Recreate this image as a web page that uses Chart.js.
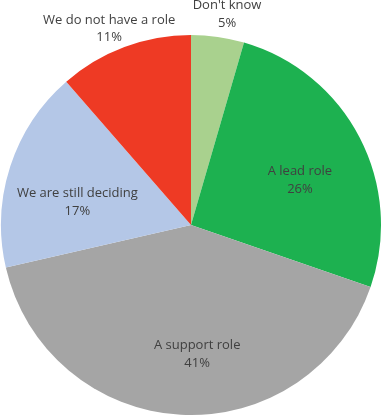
<!DOCTYPE html>
<html>
<head>
<meta charset="utf-8">
<script src="https://cdn.jsdelivr.net/npm/chart.js@4"></script>
<style>
  body { margin: 0; background: #fff; }
  #wrap { width: 383px; height: 415px; }
</style>
</head>
<body>
<div id="wrap"><canvas id="roleChart" width="383" height="415"></canvas></div>
<script>
// Role in the organisation - pie chart

const categories = ["Don't know", "A lead role", "A support role", "We are still deciding", "We do not have a role"];
const shares = [4.5, 25.8, 41.1, 17.2, 11.4];
const sliceColors = ["#a9d18e", "#1db150", "#a5a5a5", "#b4c7e7", "#ee3a24"];

// label placement: [angle nudge in degrees, distance as fraction of radius]
const labelSpots = [[1.6, 1.126], [5, 0.62], [-5.8, 0.68], [-6.6, 0.61], [-2.1, 1.12]];

// Plugin to write the category + percent on each slice
const sliceLabels = {
    id: "sliceLabels",
    afterDatasetsDraw(chart) {
        let ctx = chart.ctx;
        let meta = chart.getDatasetMeta(0);
        ctx.save();
        ctx.fillStyle = "#404040";
        ctx.font = "13px 'Open Sans', sans-serif";
        ctx.textAlign = "center";
        ctx.textBaseline = "middle";
        meta.data.forEach(function (arc, i) {
            let mid = (arc.startAngle + arc.endAngle) / 2 + labelSpots[i][0] * Math.PI / 180;
            let r = arc.outerRadius * labelSpots[i][1];
            let x = arc.x + Math.cos(mid) * r;
            let y = arc.y + Math.sin(mid) * r;
            ctx.fillText(categories[i], x, y - 8.5);
            ctx.fillText(Math.round(shares[i]) + "%", x, y + 9);
        });
        ctx.restore();
    }
};

let ctx = document.getElementById("roleChart").getContext("2d");
new Chart(ctx, {
    type: "pie",
    data: {
        labels: categories,
        datasets: [{
            data: shares,
            backgroundColor: sliceColors,
            borderWidth: 0
        }]
    },
    options: {
        responsive: false,
        animation: false,
        layout: { padding: { top: 35, left: 1, right: 2, bottom: 0 } },
        plugins: {
            legend: { display: false },
            tooltip: { enabled: false }
        }
    },
    plugins: [sliceLabels]
});
</script>
</body>
</html>
